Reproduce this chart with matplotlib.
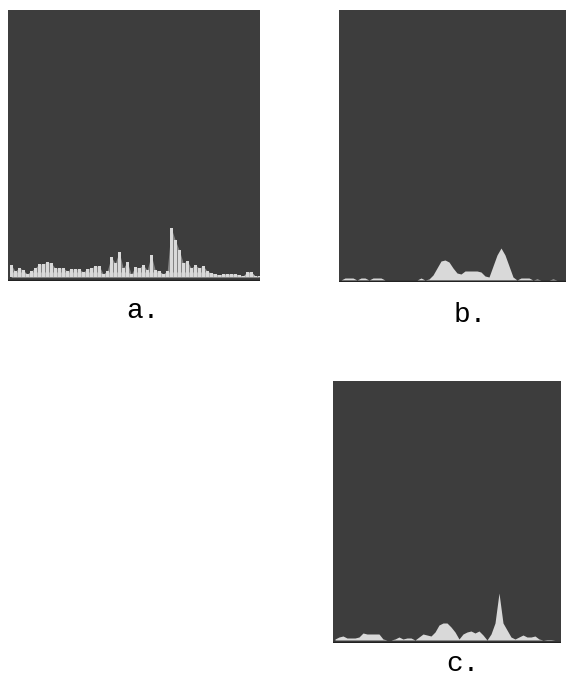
"""
Three histogram panels (a, b, c) from a scanned figure.
"""

import numpy as np
import matplotlib
matplotlib.use('Agg')
import matplotlib.pyplot as plt

W, H = 566, 678
BG = '#3d3d3d'
FG = '#d9d9d9'

heights_a = [12, 6, 9, 7, 3, 6, 9, 13, 13, 15, 14, 9, 9, 9, 6, 8, 8, 8, 5, 8, 9,
             11, 11, 3, 6, 20, 14, 25, 9, 15, 3, 10, 9, 12, 7, 22, 7, 6, 3, 6,
             49, 37, 27, 14, 16, 9, 12, 9, 11, 6, 4, 3, 2, 3, 3, 3, 3, 2, 1, 5,
             5, 1, 1]
heights_b = [0, 2, 2, 2, 0, 2, 2, 0, 2, 2, 2, 0, 0, 0, 0, 0, 0, 0, 0, 0, 2, 0, 1,
             5, 12, 19, 20, 18, 12, 7, 6, 9, 9, 9, 9, 8, 4, 3, 14, 25, 32, 25, 14,
             3, 0, 2, 2, 2, 0, 1, 0, 0, 0, 1, 0, 0, 0]
heights_c = [1, 3, 4, 2, 2, 2, 3, 7, 6, 6, 6, 6, 1, 0, 0, 1, 3, 1, 2, 2, 0, 3, 6,
             5, 4, 8, 15, 17, 17, 13, 8, 1, 6, 8, 9, 7, 9, 5, 0, 6, 17, 47, 17,
             10, 3, 1, 3, 5, 3, 3, 4, 1, 0, 0.5, 0.5, 0]
labels = ['a.', 'b.', 'c.']

# panel boxes in image pixels: left, top, right, bottom, baseline
boxes = [(8, 10, 260, 281, 277),
         (339, 10, 566, 282, 280),
         (333, 381, 561, 643, 640)]
# label centre x and text baseline y
label_pos = [(143, 318), (470, 322), (463, 671)]


def draw_panel(fig, box, values, bars=False):
    left, top, right, bottom, base = box
    ax = fig.add_axes([left / W, 1 - bottom / H, (right - left) / W, (bottom - top) / H])
    ax.set_facecolor(BG)
    ax.set_xlim(0, (right - left) / 4)
    ax.set_ylim(base - bottom, base - top)
    x = np.arange(len(values)) + 0.5
    if bars:
        x = x + 0.3
        ax.bar(x, values, width=0.7, color=FG, linewidth=0)
        ax.fill_between(x, 0, np.minimum(values, 5), color=FG, alpha=0.6, linewidth=0)
        ax.fill_between(x, 0, values, color=FG, alpha=0.45, linewidth=0)
    else:
        ax.fill_between(x, 0, values, color=FG, linewidth=0)
    ax.set_xticks([])
    ax.set_yticks([])
    for spine in ax.spines.values():
        spine.set_visible(False)
    ax.axhline(base - bottom, color='#222222', linewidth=2.5)
    return ax


def main():
    fig = plt.figure(figsize=(W / 100, H / 100), dpi=100, facecolor='white')
    draw_panel(fig, boxes[0], heights_a, bars=True)
    draw_panel(fig, boxes[1], heights_b)
    draw_panel(fig, boxes[2], heights_c)
    for label, (px, py) in zip(labels, label_pos):
        fig.text(px / W, 1 - py / H, label, fontsize=20, color='black',
                 family='Liberation Mono', ha='center', va='baseline')
    fig.savefig('out.png', dpi=100)
    plt.close(fig)


if __name__ == '__main__':
    main()
